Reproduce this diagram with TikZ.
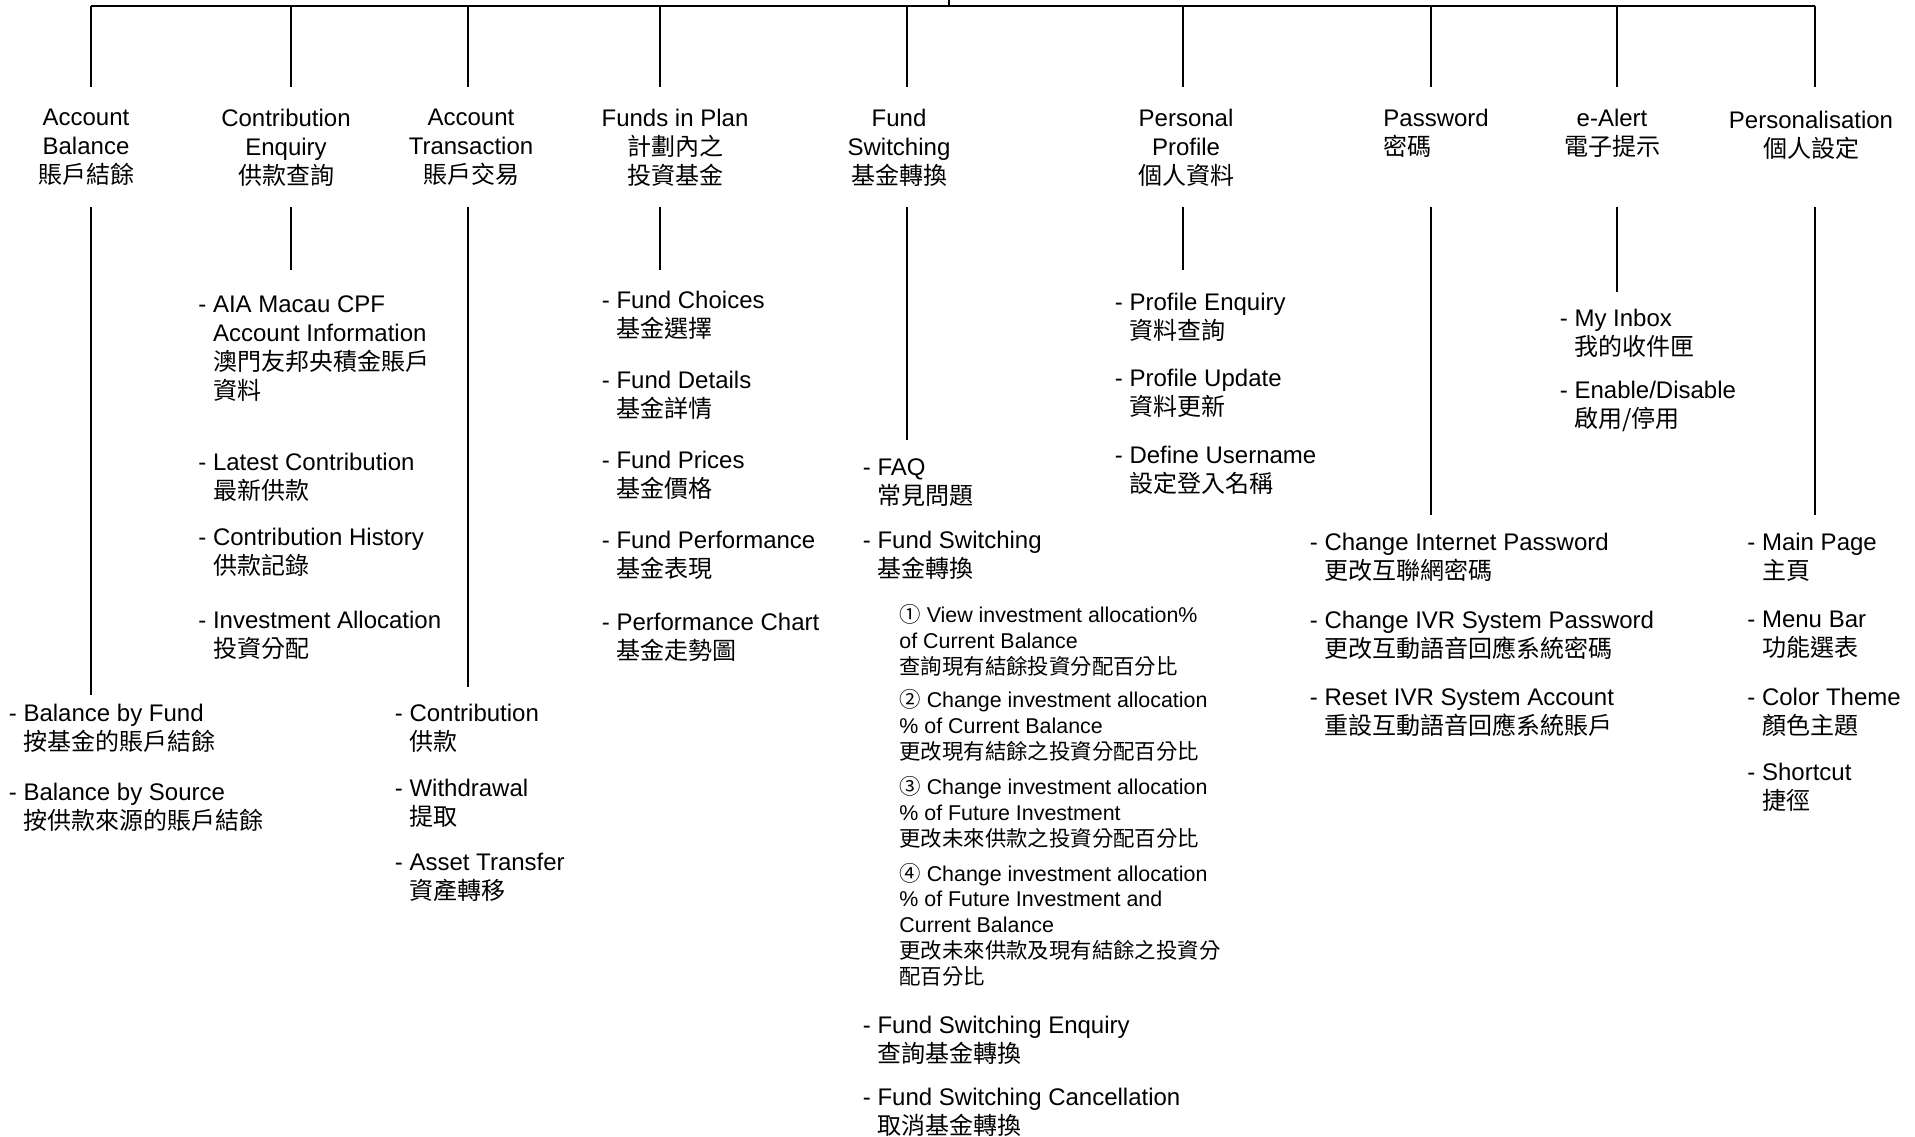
\documentclass[tikz,border=0pt]{standalone}
\usepackage{fontspec}
\setmainfont{Liberation Sans}
\newfontfamily\cjk{Noto Sans CJK TC}
\newcommand{\hng}{\hphantom{-\ }}
\tikzset{
  head/.style={align=center,anchor=north,inner sep=0pt,font=\fontsize{12}{14.5}\selectfont},
  entry/.style={align=left,anchor=north west,inner sep=0pt,font=\fontsize{12}{14.5}\selectfont},
  subentry/.style={align=left,anchor=north west,inner sep=0pt,font=\fontsize{10.7}{12.9}\selectfont},
  tree/.style={line width=1pt}
}

\begin{document}
\begin{tikzpicture}[x=0.5pt,y=-0.5pt]
    \path[use as bounding box,fill=white] (0,0) rectangle (1915,1136);

    \coordinate (root) at (949,0);
    \path (91,6) coordinate (b1) (91,87) coordinate (t1) (91,207) coordinate (u1) (91,695) coordinate (e1);
    \path (291,6) coordinate (b2) (291,87) coordinate (t2) (291,207) coordinate (u2) (291,270) coordinate (e2);
    \path (468,6) coordinate (b3) (468,87) coordinate (t3) (468,207) coordinate (u3) (468,687) coordinate (e3);
    \path (660,6) coordinate (b4) (660,87) coordinate (t4) (660,207) coordinate (u4) (660,270) coordinate (e4);
    \path (907,6) coordinate (b5) (907,87) coordinate (t5) (907,207) coordinate (u5) (907,440) coordinate (e5);
    \path (1183,6) coordinate (b6) (1183,87) coordinate (t6) (1183,207) coordinate (u6) (1183,270) coordinate (e6);
    \path (1431,6) coordinate (b7) (1431,87) coordinate (t7) (1431,207) coordinate (u7) (1431,515) coordinate (e7);
    \path (1617,6) coordinate (b8) (1617,87) coordinate (t8) (1617,207) coordinate (u8) (1617,292) coordinate (e8);
    \path (1815,6) coordinate (b9) (1815,87) coordinate (t9) (1815,207) coordinate (u9) (1815,515) coordinate (e9);

    \draw[tree] (b1) -- (b9);
    \draw[tree] (root) -- (root |- b1);
    \draw[tree] (b1) -- (t1) (u1) -- (e1);
    \draw[tree] (b2) -- (t2) (u2) -- (e2);
    \draw[tree] (b3) -- (t3) (u3) -- (e3);
    \draw[tree] (b4) -- (t4) (u4) -- (e4);
    \draw[tree] (b5) -- (t5) (u5) -- (e5);
    \draw[tree] (b6) -- (t6) (u6) -- (e6);
    \draw[tree] (b7) -- (t7) (u7) -- (e7);
    \draw[tree] (b8) -- (t8) (u8) -- (e8);
    \draw[tree] (b9) -- (t9) (u9) -- (e9);

    \node[head] (acbal) at (86,108.5) {Account\\Balance\\{\cjk 賬戶結餘}};
    \node[head] (coenq) at (286,108.5) {Contribution\\Enquiry\\{\cjk 供款查詢}};
    \node[head] (actrn) at (471,108.5) {Account\\Transaction\\{\cjk 賬戶交易}};
    \node[head] (fplan) at (675,108.5) {Funds in Plan\\{\cjk 計劃內之}\\{\cjk 投資基金}};
    \node[head] (fswit) at (899,108.5) {Fund\\Switching\\{\cjk 基金轉換}};
    \node[head] (pprof) at (1186,108.5) {Personal\\Profile\\{\cjk 個人資料}};
    \node[entry] (passw) at (1383,108.5) {Password\\{\cjk 密碼}};
    \node[head] (ealrt) at (1612,108.5) {e-Alert\\{\cjk 電子提示}};
    \node[head] (perso) at (1811,110.5) {Personalisation\\{\cjk 個人設定}};

    \node[entry] (ab1) at (8.5,703.5) {- Balance by Fund\\\hng{\cjk 按基金的賬戶結餘}};
    \node[entry] (ab2) at (8.5,782.5) {- Balance by Source\\\hng{\cjk 按供款來源的賬戶結餘}};

    \node[entry] (ce1) at (198,295.5) {- AIA Macau CPF\\\hng Account Information\\\hng{\cjk 澳門友邦央積金賬戶}\\\hng{\cjk 資料}};
    \node[entry] (ce2) at (198,452.5) {- Latest Contribution\\\hng{\cjk 最新供款}};
    \node[entry] (ce3) at (198,527.5) {- Contribution History\\\hng{\cjk 供款記錄}};
    \node[entry] (ce4) at (198,610.5) {- Investment Allocation\\\hng{\cjk 投資分配}};

    \node[entry] (at1) at (394.5,703.5) {- Contribution\\\hng{\cjk 供款}};
    \node[entry] (at2) at (394.5,778.5) {- Withdrawal\\\hng{\cjk 提取}};
    \node[entry] (at3) at (394.5,852.5) {- Asset Transfer\\\hng{\cjk 資產轉移}};

    \node[entry] (fp1) at (601.5,290.5) {- Fund Choices\\\hng{\cjk 基金選擇}};
    \node[entry] (fp2) at (601.5,370.5) {- Fund Details\\\hng{\cjk 基金詳情}};
    \node[entry] (fp3) at (601.5,450.5) {- Fund Prices\\\hng{\cjk 基金價格}};
    \node[entry] (fp4) at (601.5,530.5) {- Fund Performance\\\hng{\cjk 基金表現}};
    \node[entry] (fp5) at (601.5,612.5) {- Performance Chart\\\hng{\cjk 基金走勢圖}};

    \node[entry] (fs1) at (862.5,458.5) {- FAQ\\\hng{\cjk 常見問題}};
    \node[entry] (fs2) at (862.5,530.5) {- Fund Switching\\\hng{\cjk 基金轉換}};
    \node[subentry] (fs3) at (899,604) {{\cjk ①} View investment allocation\%\\of Current Balance\\{\cjk 查詢現有結餘投資分配百分比}};
    \node[subentry] (fs4) at (899,689) {{\cjk ②} Change investment allocation\\\% of Current Balance\\{\cjk 更改現有結餘之投資分配百分比}};
    \node[subentry] (fs5) at (899,776) {{\cjk ③} Change investment allocation\\\% of Future Investment\\{\cjk 更改未來供款之投資分配百分比}};
    \node[subentry] (fs6) at (899,862.5) {{\cjk ④} Change investment allocation\\\% of Future Investment and\\Current Balance\\{\cjk 更改未來供款及現有結餘之投資分}\\{\cjk 配百分比}};
    \node[entry] (fs7) at (862.5,1015.5) {- Fund Switching Enquiry\\\hng{\cjk 查詢基金轉換}};
    \node[entry] (fs8) at (862.5,1087.5) {- Fund Switching Cancellation\\\hng{\cjk 取消基金轉換}};

    \node[entry] (pp1) at (1114.5,292.5) {- Profile Enquiry\\\hng{\cjk 資料查詢}};
    \node[entry] (pp2) at (1114.5,368.5) {- Profile Update\\\hng{\cjk 資料更新}};
    \node[entry] (pp3) at (1114.5,445.5) {- Define Username\\\hng{\cjk 設定登入名稱}};

    \node[entry] (pw1) at (1309.5,532.5) {- Change Internet Password\\\hng{\cjk 更改互聯網密碼}};
    \node[entry] (pw2) at (1309.5,610.5) {- Change IVR System Password\\\hng{\cjk 更改互動語音回應系統密碼}};
    \node[entry] (pw3) at (1309.5,688.5) {- Reset IVR System Account\\\hng{\cjk 重設互動語音回應系統賬戶}};

    \node[entry] (ea1) at (1559.5,308.5) {- My Inbox\\\hng{\cjk 我的收件匣}};
    \node[entry] (ea2) at (1559.5,380.5) {- Enable/Disable\\\hng{\cjk 啟用/停用}};

    \node[entry] (ps1) at (1747,532.5) {- Main Page\\\hng{\cjk 主頁}};
    \node[entry] (ps2) at (1747,610.5) {- Menu Bar\\\hng{\cjk 功能選表}};
    \node[entry] (ps3) at (1747,687.5) {- Color Theme\\\hng{\cjk 顏色主題}};
    \node[entry] (ps4) at (1747,762.5) {- Shortcut\\\hng{\cjk 捷徑}};
\end{tikzpicture}
\end{document}
